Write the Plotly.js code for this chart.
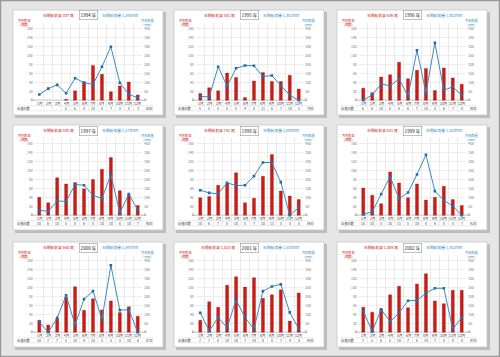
<!DOCTYPE html>
<html><head><meta charset="utf-8">
<script src="https://cdn.plot.ly/plotly-3.0.1.min.js"></script>
<style>html,body{margin:0;padding:0;background:#e6e6e6;}#c{width:500px;height:357px;}</style>
</head><body><div id="c"></div>
<script>
const months = ['1月','2月','3月','4月','5月','6月','7月','8月','9月','10月','11月','12月'];
const years = ['1994','1995','1996','1997','1998','1999','2000','2001','2002'];
const catchTotals = ['337','501','636','835','741','651','660','1,015','1,009'];
const rainTotals = ['1,295','1,342','1,302','1,273','2,030','1,543','1,597','1,533','1,702'];
const dayTotals = ['60日','79日','90日','90日','89日','92日','87日','94日','97日'];

const catch1994 = [null,null,null,2,21,41,78,58,19,32,41,12];
const catch1995 = [15,28,21,61,51,6,43,62,42,42,56,25];
const catch1996 = [27,17,52,57,85,48,67,71,22,72,50,36];
const catch1997 = [40,28,84,70,73,59,80,103,129,55,46,22];
const catch1998 = [39,42,67,71,95,28,38,87,136,54,43,35];
const catch1999 = [61,45,26,97,72,39,70,34,40,65,35,22];
const catch2000 = [27,16,30,79,102,49,75,50,70,44,57,36];
const catch2001 = [27,68,56,105,124,101,122,76,84,95,25,88];
const catch2002 = [56,45,51,84,103,55,108,131,70,64,94,94];

const rain1994 = [32,65,86,39,123,99,88,187,299,97,34,13];
const rain1995 = [21,19,187,79,179,194,193,133,138,82,28,0];
const rain1996 = [0,30,92,80,120,22,280,41,321,56,75,28];
const rain1997 = [28,22,80,77,172,168,112,93,228,13,118,30];
const rain1998 = [140,125,120,181,166,168,219,295,295,185,0,43];
const rain1999 = [6,19,118,215,93,127,228,338,135,84,52,0];
const rain2000 = [57,0,81,207,41,185,230,72,374,124,126,0];
const rain2001 = [109,7,83,26,181,83,17,230,256,268,111,19];
const rain2002 = [119,4,128,59,109,176,178,219,246,246,17,83];

const days1994 = [null,null,null,2,6,8,10,8,7,8,8,3];
const days1995 = [5,5,5,8,5,4,8,11,6,7,10,5];
const days1996 = [6,6,10,8,8,6,7,10,8,6,7,8];
const days1997 = [10,6,10,5,5,6,5,10,10,6,10,7];
const days1998 = [10,6,7,5,10,5,7,10,11,5,5,8];
const days1999 = [10,10,5,10,11,5,10,8,6,5,5,7];
const days2000 = [10,7,7,5,10,4,10,5,5,8,10,6];
const days2001 = [7,7,8,10,10,7,10,8,8,7,4,8];
const days2002 = [7,5,6,8,10,7,8,14,7,8,9,8];

const leftTicks = [0,20,40,60,80,100,120,140,160];
const rightTicks = [0,50,100,150,200,250,300,350,400];

const catches = [catch1994,catch1995,catch1996,catch1997,catch1998,catch1999,catch2000,catch2001,catch2002];
const rains = [rain1994,rain1995,rain1996,rain1997,rain1998,rain1999,rain2000,rain2001,rain2002];
const daysAll = [days1994,days1995,days1996,days1997,days1998,days1999,days2000,days2001,days2002];

const W=500,H=357;
const colX=[13,174,337], rowY=[10,125,242], CW=150, CH=105;
const px=x=>x/W, py=y=>1-y/H;
const FONT='Noto Sans CJK JP, Noto Sans, sans-serif';
const RED='#cc1a14', BLUE='#3a8cc4', GREY='#7a7a7a';
const yLo=-23.6, yHi=172.8, rScale=2.5;
const xPos=[1,2,3,4,5,6,7,8,9,10,11,12];
const bounds=[0.5,1.5,2.5,3.5,4.5,5.5,6.5,7.5,8.5,9.5,10.5,11.5,12.5];

const data=[], shapes=[], annotations=[];
const layout={width:W,height:H,margin:{l:0,r:0,t:0,b:0},paper_bgcolor:'#e6e6e6',plot_bgcolor:'rgba(0,0,0,0)',showlegend:false,font:{family:FONT}};

shapes.push({type:'rect',xref:'paper',yref:'paper',x0:px(0.5),x1:px(499.5),y0:py(356.5),y1:py(0.5),line:{color:'#9a9a9a',width:1.5},layer:'below'});

for(let k=0;k<9;k++){
  const r=Math.floor(k/3), c=k%3, cx=colX[c], cy=rowY[r];
  const n=k+1, xa='x'+(n===1?'':n), ya='y'+(n===1?'':n);
  shapes.push({type:'rect',xref:'paper',yref:'paper',x0:px(cx+2),x1:px(cx+CW+3),y0:py(cy+CH+3),y1:py(cy+2),fillcolor:'#bdbdbd',line:{width:0},layer:'below'});
  shapes.push({type:'rect',xref:'paper',yref:'paper',x0:px(cx),x1:px(cx+CW),y0:py(cy+CH),y1:py(cy),fillcolor:'#ffffff',line:{color:'#c8c8c8',width:0.8},layer:'below'});
  shapes.push({type:'rect',xref:'paper',yref:'paper',x0:px(cx+18),x1:px(cx+133),y0:py(cy+91),y1:py(cy+89.6),fillcolor:'#cfcfcf',line:{width:0},layer:'below'});
  shapes.push({type:'line',xref:'paper',yref:'paper',x0:px(cx+4),x1:px(cx+140),y0:py(cy+95.8),y1:py(cy+95.8),line:{color:'#d8d8d8',width:0.6},layer:'below'});
  shapes.push({type:'line',xref:'paper',yref:'paper',x0:px(cx+4),x1:px(cx+140),y0:py(cy+100.8),y1:py(cy+100.8),line:{color:'#d8d8d8',width:0.6},layer:'below'});

  const xd=[px(cx+21.8),px(cx+129.2)], yd=[py(cy+100.8),py(cy+13)];
  layout['xaxis'+(n===1?'':n)]={domain:xd,anchor:ya,range:[0.5,12.5],tickvals:bounds,showticklabels:false,ticks:'',showgrid:true,gridcolor:'#dedede',gridwidth:0.6,zeroline:false,showline:false,fixedrange:true};
  layout['yaxis'+(n===1?'':n)]={domain:yd,anchor:xa,range:[yLo,yHi],tickvals:leftTicks,ticktext:leftTicks.map(String),showgrid:true,gridcolor:'#e2e2e2',gridwidth:0.6,zeroline:false,ticks:'',tickfont:{size:3.5,color:GREY},ticklabelstandoff:1,showline:false};
  layout['yaxis'+(n+9)]={domain:yd,anchor:xa,overlaying:ya,side:'right',range:[yLo*rScale,yHi*rScale],tickvals:rightTicks,ticktext:rightTicks.map(String),showgrid:false,zeroline:false,ticks:'',tickfont:{size:3.5,color:GREY},ticklabelstandoff:1,showline:false};

  data.push({type:'bar',x:xPos,y:catches[k],xaxis:xa,yaxis:ya,width:0.34,marker:{color:RED,line:{color:'#8e0c08',width:0.3}},hoverinfo:'skip'});
  data.push({type:'scatter',mode:'lines+markers',x:xPos,y:rains[k],xaxis:xa,yaxis:'y'+(n+9),line:{color:BLUE,width:1},marker:{symbol:'square',size:2.6,color:'#1f6ea8'},hoverinfo:'skip'});

  annotations.push({xref:'paper',yref:'paper',x:px(cx+63),y:py(cy+5.5),text:'年間総釣果 '+catchTotals[k]+' 尾',showarrow:false,font:{size:3.8,color:RED},xanchor:'right',yanchor:'middle'});
  annotations.push({xref:'paper',yref:'paper',x:px(cx+75),y:py(cy+5.5),text:years[k]+' 年',showarrow:false,font:{size:4.6,color:'#222'},bgcolor:'#ffffff',bordercolor:'#999',borderwidth:0.6,borderpad:1,xanchor:'center',yanchor:'middle'});
  annotations.push({xref:'paper',yref:'paper',x:px(cx+87),y:py(cy+5.5),text:'年間総雨量 '+rainTotals[k]+'mm',showarrow:false,font:{size:3.8,color:BLUE},xanchor:'left',yanchor:'middle'});
  annotations.push({xref:'paper',yref:'paper',x:px(cx+12),y:py(cy+12),text:'月別釣果<br>(尾数)',showarrow:false,font:{size:3.2,color:RED},xanchor:'center',yanchor:'middle'});
  annotations.push({xref:'paper',yref:'paper',x:px(cx+135),y:py(cy+12),text:'月別雨量<br>(mm)',showarrow:false,font:{size:3.2,color:BLUE},xanchor:'center',yanchor:'middle'});
  for(let m=0;m<12;m++){
    annotations.push({xref:xa,yref:ya,x:xPos[m],y:-7.8,text:months[m],showarrow:false,font:{size:3.4,color:'#333'},xanchor:'center',yanchor:'middle'});
    if(daysAll[k][m]!==null) annotations.push({xref:xa,yref:ya,x:xPos[m],y:-19,text:String(daysAll[k][m]),showarrow:false,font:{size:3.4,color:'#444'},xanchor:'center',yanchor:'middle'});
  }
  annotations.push({xref:'paper',yref:'paper',x:px(cx+11),y:py(cy+98.3),text:'出漁日数',showarrow:false,font:{size:3.2,color:'#444'},xanchor:'center',yanchor:'middle'});
  annotations.push({xref:'paper',yref:'paper',x:px(cx+136),y:py(cy+98.3),text:dayTotals[k],showarrow:false,font:{size:3.2,color:'#444'},xanchor:'center',yanchor:'middle'});
}
layout.shapes=shapes; layout.annotations=annotations;
Plotly.newPlot('c',data,layout,{staticPlot:true,displayModeBar:false});
</script></body></html>
